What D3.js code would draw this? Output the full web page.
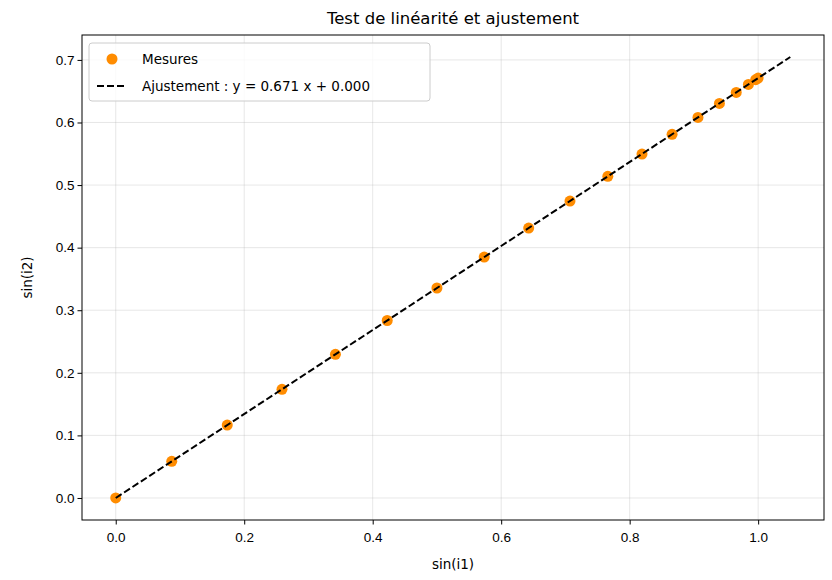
<!DOCTYPE html>
<html><head><meta charset="utf-8">
<script src="https://cdn.jsdelivr.net/npm/d3@7"></script>
<style>body{margin:0;background:#fff}svg{font-family:"DejaVu Sans",sans-serif}</style>
</head><body><svg id="c" width="832" height="580"></svg>
<script>
const sinI1 = [0, 0.0872, 0.1736, 0.2588, 0.3420, 0.4226, 0.5, 0.5736, 0.6428, 0.7071, 0.7660, 0.8192, 0.8660, 0.9063, 0.9397, 0.9659, 0.9848, 0.9962, 1.0];
const sinI2 = [0, 0.0585, 0.1165, 0.1737, 0.2295, 0.2836, 0.3355, 0.3849, 0.4313, 0.4745, 0.5140, 0.5496, 0.5811, 0.6081, 0.6305, 0.6481, 0.6608, 0.6684, 0.6710];
const fitLine = [[0, 0], [1.05, 0.7046]];
const xTicks = [0, 0.2, 0.4, 0.6, 0.8, 1.0];
const yTicks = [0, 0.1, 0.2, 0.3, 0.4, 0.5, 0.6, 0.7];

const svg = d3.select("#c");
const L = 82, R = 824, T = 35, B = 520;
const x = d3.scaleLinear().domain([-0.0525, 1.1025]).range([L, R]);
const y = d3.scaleLinear().domain([-0.0352, 0.7398]).range([B, T]);

const g = svg.append("g");
g.selectAll(".gx").data(xTicks).join("line").attr("x1", d => x(d)).attr("x2", d => x(d)).attr("y1", T).attr("y2", B).attr("stroke", "#b0b0b0").attr("stroke-opacity", 0.3);
g.selectAll(".gy").data(yTicks).join("line").attr("y1", d => y(d)).attr("y2", d => y(d)).attr("x1", L).attr("x2", R).attr("stroke", "#b0b0b0").attr("stroke-opacity", 0.3);

const xa = svg.append("g").attr("transform", `translate(0,${B})`).call(d3.axisBottom(x).tickValues(xTicks).tickFormat(d3.format(".1f")).tickSize(4.5).tickSizeOuter(0));
const ya = svg.append("g").attr("transform", `translate(${L},0)`).call(d3.axisLeft(y).tickValues(yTicks).tickFormat(d3.format(".1f")).tickSize(4.5).tickSizeOuter(0));
[xa, ya].forEach(a => { a.selectAll("text").attr("font-size", 13.5).attr("fill", "#000"); a.select(".domain").remove(); });
xa.selectAll("text").attr("dy", "1.05em");

svg.append("rect").attr("x", L).attr("y", T).attr("width", R - L).attr("height", B - T).attr("fill", "none").attr("stroke", "#000").attr("stroke-width", 1);

svg.selectAll(".pt").data(sinI1).join("circle").attr("cx", d => x(d)).attr("cy", (d, i) => y(sinI2[i])).attr("r", 5.5).attr("fill", "darkorange");
svg.append("path").attr("d", d3.line().x(d => x(d[0])).y(d => y(d[1]))(fitLine)).attr("stroke", "#000").attr("stroke-width", 2).attr("stroke-dasharray", "7,3").attr("fill", "none");

svg.append("text").attr("x", (L + R) / 2).attr("y", 24).attr("text-anchor", "middle").attr("font-size", 16.5).text("Test de linéarité et ajustement");
svg.append("text").attr("x", (L + R) / 2).attr("y", 569).attr("text-anchor", "middle").attr("font-size", 13.5).text("sin(i1)");
svg.append("text").attr("transform", `translate(32,${(T + B) / 2}) rotate(-90)`).attr("text-anchor", "middle").attr("font-size", 13.5).text("sin(i2)");

const lg = svg.append("g");
lg.append("rect").attr("x", 89).attr("y", 43).attr("width", 341).attr("height", 58).attr("rx", 3).attr("fill", "#fff").attr("fill-opacity", 0.8).attr("stroke", "#ccc");
lg.append("circle").attr("cx", 112).attr("cy", 59).attr("r", 5.5).attr("fill", "darkorange");
lg.append("text").attr("x", 142).attr("y", 64).attr("font-size", 13.5).text("Mesures");
lg.append("line").attr("x1", 97).attr("x2", 127).attr("y1", 86).attr("y2", 86).attr("stroke", "#000").attr("stroke-width", 2).attr("stroke-dasharray", "7,3");
lg.append("text").attr("x", 142).attr("y", 91).attr("font-size", 13.5).text("Ajustement : y = 0.671 x + 0.000");
</script></body></html>
